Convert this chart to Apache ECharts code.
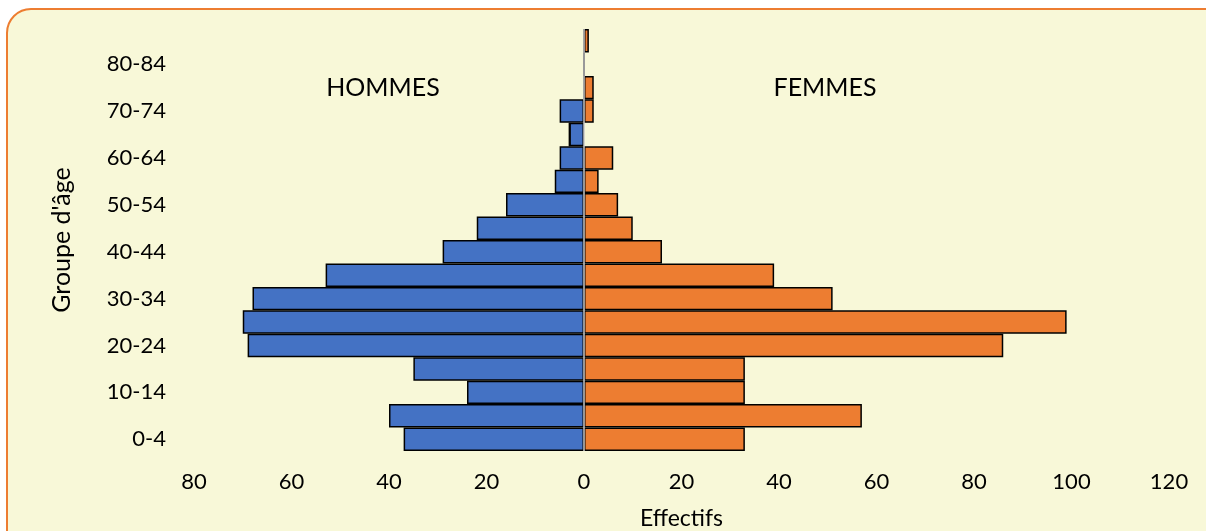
<!DOCTYPE html>
<html>
<head>
<meta charset="utf-8">
<script src="https://cdn.jsdelivr.net/npm/echarts@6/dist/echarts.min.js"></script>
<style>
html,body{margin:0;padding:0;background:#ffffff;}
#chart{width:1206px;height:531px;}
</style>
</head>
<body>
<div id="chart"></div>
<script>
// ---- data ----
const ageGroups = ['0-4','5-9','10-14','15-19','20-24','25-29','30-34','35-39','40-44','45-49','50-54','55-59','60-64','65-69','70-74','75-79','80-84','85+'];
const hommes = [37, 40, 24, 35, 69, 70, 68, 53, 29, 22, 16, 6, 5, 3, 5, 0, 0, 0];
const femmes = [33, 57, 33, 33, 86, 99, 51, 39, 16, 10, 7, 3, 6, 0, 2, 2, 0, 1];
const xTicksMin = -80, xTicksMax = 120, xTickStep = 20;

const FONT = 'Lato';
const chart = echarts.init(document.getElementById('chart'));
chart.setOption({
  backgroundColor: 'transparent',
  textStyle: { fontFamily: FONT },
  graphic: [
    { type: 'rect', z: 0, shape: { x: 7, y: 9, width: 1230, height: 545, r: 24 },
      style: { fill: '#f8f8d8', stroke: '#ED7D31', lineWidth: 2 } },
    { type: 'text', z: 1, x: 104, y: -1,
      style: { text: "Pyramide des âges de la population par groupe d'âge", fill: '#9bb82a', font: 'bold 21px ' + FONT, verticalAlign: 'bottom' } },
    { type: 'text', z: 5, x: 383, y: 88,
      style: { text: 'HOMMES', fill: '#000', font: '25px ' + FONT, align: 'center', verticalAlign: 'middle' } },
    { type: 'text', z: 5, x: 825, y: 88,
      style: { text: 'FEMMES', fill: '#000', font: '25px ' + FONT, align: 'center', verticalAlign: 'middle' } }
  ],
  grid: { left: 194, right: 37, top: 29, bottom: 80, containLabel: false, outerBoundsMode: 'none' },
  xAxis: {
    type: 'value', min: xTicksMin, max: xTicksMax, interval: xTickStep,
    axisLine: { show: false }, axisTick: { show: false }, splitLine: { show: false },
    axisLabel: { color: '#000', fontSize: 22, fontFamily: FONT, margin: 20, formatter: v => Math.abs(v) },
    name: 'Effectifs', nameLocation: 'middle', nameGap: 56,
    nameTextStyle: { color: '#000', fontSize: 23, fontFamily: FONT }
  },
  yAxis: {
    type: 'category', data: ageGroups, boundaryGap: true,
    axisLine: { show: false, onZero: false }, axisTick: { show: false },
    axisLabel: { color: '#000', fontSize: 22, fontFamily: FONT, interval: 1, margin: 28 },
    name: "Groupe d'âge", nameLocation: 'middle', nameGap: 120, nameRotate: 90,
    nameTextStyle: { color: '#000', fontSize: 25, fontFamily: FONT }
  },
  series: [
    { name: 'Hommes', type: 'bar', stack: 'pyr', barCategoryGap: 0,
      data: hommes.map(v => -v),
      itemStyle: { color: '#4472C4', borderColor: '#000', borderWidth: 1.5 },
      markLine: { silent: true, symbol: 'none', label: { show: false },
        lineStyle: { color: '#c8c8c8', width: 1.5, type: 'solid' },
        data: [{ xAxis: 0 }] }
    },
    { name: 'Femmes', type: 'bar', stack: 'pyr', barCategoryGap: 0,
      data: femmes,
      itemStyle: { color: '#ED7D31', borderColor: '#000', borderWidth: 1.5 }
    }
  ],
  animation: false
});
</script>
</body>
</html>
